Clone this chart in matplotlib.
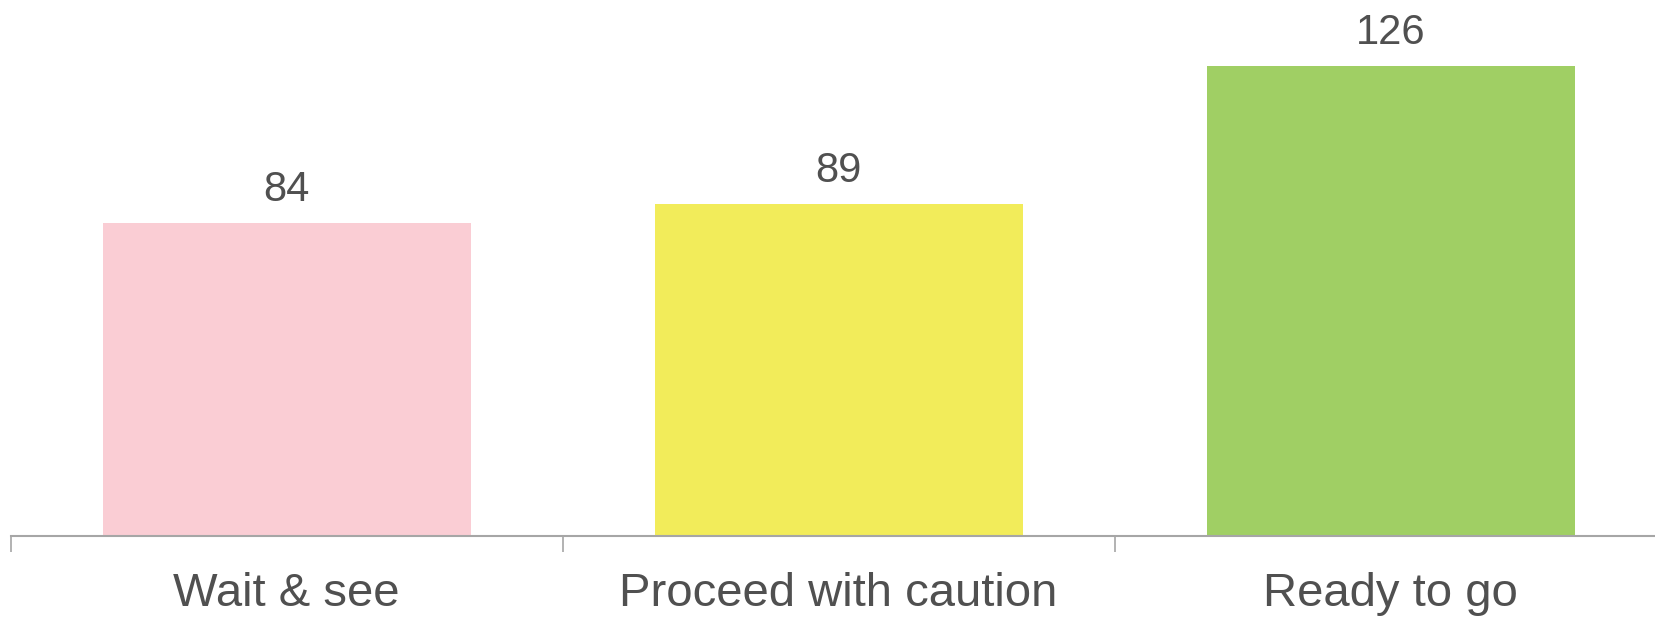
import matplotlib.pyplot as plt

categories = ['Wait & see', 'Proceed with caution', 'Ready to go']
counts = [84, 89, 126]
colors = ['#FACDD4', '#F2EC5A', '#A0CF64']

plt.rcParams['font.family'] = ['Liberation Sans', 'DejaVu Sans']

fig = plt.figure(figsize=(16.55, 6.18), dpi=100)
# axes runs slightly past the right edge so the last category boundary is clipped
ax = fig.add_axes([10.6 / 1655, 81.8 / 618, 1656 / 1655, 536.2 / 618])

x = range(len(categories))
bars = ax.bar(x, counts, width=0.667, color=colors)

for b, v in zip(bars, counts):
    ax.annotate(str(v), (b.get_x() + b.get_width() / 2, v),
                xytext=(0, 9.5), textcoords='offset points',
                ha='center', va='bottom', fontsize=30, color='#505050')

ax.set_xlim(-0.5, 2.5)
ax.set_ylim(0, 143.8)

for s in ['top', 'right', 'left']:
    ax.spines[s].set_visible(False)
ax.spines['bottom'].set_color('#A6A6A6')
ax.spines['bottom'].set_linewidth(1.5)
ax.set_yticks([])

# ticks sit between categories, labels centered under each bar
ax.set_xticks([-0.5, 0.5, 1.5, 2.5])
ax.set_xticklabels([])
ax.tick_params(axis='x', length=11.5, width=1.2, color='#A6A6A6')
ax.set_xticks(list(x), minor=True)
ax.set_xticklabels(categories, minor=True, fontsize=34, color='#505050')
ax.tick_params(axis='x', which='minor', length=0, pad=25.8)

fig.savefig('out.png', dpi=100)
